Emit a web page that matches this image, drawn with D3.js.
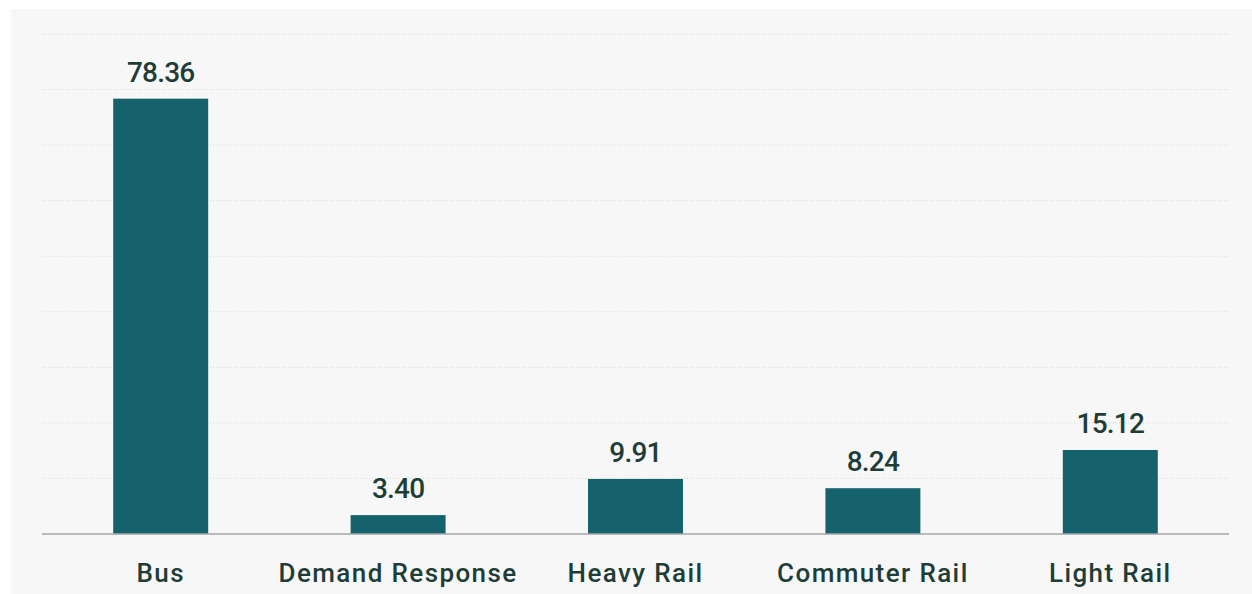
<!DOCTYPE html>
<html lang="en">
    <head>
        <meta charset="utf-8">
        <title>Bar chart</title>
        <script type="text/javascript" src="https://d3js.org/d3.v7.min.js"></script>
        <style type="text/css">
            body {
                margin: 0;
                background-color: #ffffff;
            }
            svg {
                display: block;
            }
            .value {
                font-family: Roboto, sans-serif;
                font-weight: 500;
                font-size: 28px;
                letter-spacing: -0.8px;
                fill: #1f3d37;
            }
            .cat {
                font-family: Roboto, sans-serif;
                font-weight: 500;
                font-size: 26px;
                letter-spacing: 1.4px;
                fill: #1f3d37;
            }
        </style>
    </head>
    <body>
        <svg width="1252" height="594"></svg>
        <script type="text/javascript">

            // data
            const categories = ["Bus", "Demand Response", "Heavy Rail", "Commuter Rail", "Light Rail"];
            const values = [78.36, 3.40, 9.91, 8.24, 15.12];
            const yTicks = [10, 20, 30, 40, 50, 60, 70, 80, 90];

            const svg = d3.select("svg");

            // grey panel
            svg.append("rect")
                .attr("x", 11)
                .attr("y", 9)
                .attr("width", 1241)
                .attr("height", 585)
                .attr("fill", "#f7f7f7");

            const x = d3.scaleBand()
                .domain(categories)
                .range([42, 1229])
                .paddingInner(0.6)
                .paddingOuter(0.3);

            const y = d3.scaleLinear()
                .domain([0, 90])
                .range([534, 34]);

            // dotted gridlines
            svg.selectAll("line.grid")
                .data(yTicks)
                .enter()
                .append("line")
                .attr("class", "grid")
                .attr("x1", 42)
                .attr("x2", 1229)
                .attr("y1", d => y(d))
                .attr("y2", d => y(d))
                .attr("stroke", "#d9d9d9")
                .attr("stroke-width", 1)
                .attr("stroke-dasharray", "1,2");

            // bars
            svg.selectAll("rect.bar")
                .data(values)
                .enter()
                .append("rect")
                .attr("class", "bar")
                .attr("x", (d, i) => x(categories[i]))
                .attr("y", d => y(d))
                .attr("width", x.bandwidth())
                .attr("height", d => y(0) - y(d))
                .attr("fill", "#16626c");

            // baseline
            svg.append("line")
                .attr("x1", 42)
                .attr("x2", 1229)
                .attr("y1", y(0))
                .attr("y2", y(0))
                .attr("stroke", "#a6a6a6")
                .attr("stroke-width", 1.5);

            // value labels
            svg.selectAll("text.value")
                .data(values)
                .enter()
                .append("text")
                .attr("class", "value")
                .attr("x", (d, i) => x(categories[i]) + x.bandwidth() / 2)
                .attr("y", d => y(d) - 17)
                .attr("text-anchor", "middle")
                .text(d => d.toFixed(2));

            // category labels
            svg.selectAll("text.cat")
                .data(categories)
                .enter()
                .append("text")
                .attr("class", "cat")
                .attr("x", d => x(d) + x.bandwidth() / 2)
                .attr("y", y(0) + 48)
                .attr("text-anchor", "middle")
                .text(d => d);

        </script>
    </body>
</html>
